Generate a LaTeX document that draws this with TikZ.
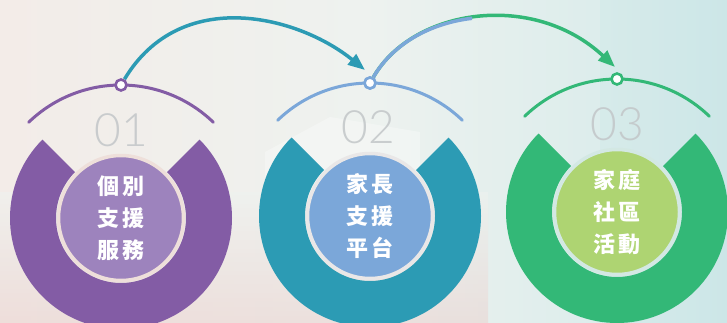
\documentclass[tikz,border=0pt]{standalone}
\usepackage{fontspec}
\newfontfamily\cjk[LetterSpace=12]{Noto Sans CJK TC}
\newfontfamily\numfont{Lato Light}
\usetikzlibrary{arrows.meta}
\definecolor{purp}{HTML}{835CA5}
\definecolor{purpl}{HTML}{9D83BD}
\definecolor{tealc}{HTML}{2C9BB4}
\definecolor{bluec}{HTML}{7BA7D9}
\definecolor{greenc}{HTML}{33B877}
\definecolor{limec}{HTML}{AED472}
\definecolor{numgray}{HTML}{C2C6C8}
\definecolor{bgl}{HTML}{F3ECE8}
\definecolor{bgm}{HTML}{EEF2EF}
\definecolor{bgr}{HTML}{D3EAEA}
\definecolor{pinkbg}{HTML}{EBD5D2}
\definecolor{cyanbg}{HTML}{C8E4E6}
\definecolor{rimone}{HTML}{EEDFDA}
\definecolor{rimtwo}{HTML}{E9E7E7}
\definecolor{rimthree}{HTML}{D3E8E3}
\begin{document}
\begin{tikzpicture}[x=1pt,y=1pt,
    disc/.style={circle,minimum size=125,inner sep=0pt,line width=3.5pt,text=white,align=center,
        font=\cjk\bfseries\fontsize{22}{32}\selectfont},
    dot/.style={circle,minimum size=11,inner sep=0pt,line width=2.6pt,fill=white},
    num/.style={font=\numfont\fontsize{46}{46}\selectfont,text=numgray,opacity=.85},
    arcline/.style={line width=3pt,line cap=round},
    link/.style={line width=3.5pt,-{Triangle[length=17pt,width=13pt]}}]
    \useasboundingbox (0,0) rectangle (727,322);

    % background
    \shade[left color=bgl,right color=bgr,middle color=bgm] (0,0) rectangle (727,322);
    \shade[top color=bgm,bottom color=pinkbg,opacity=.6] (0,0) rectangle (488,130);
    \fill[white,opacity=.3] (265,170) -- (330,205) -- (420,190) -- (420,140) -- (330,110) -- (265,140) -- cycle;
    \shade[left color=bgr,right color=cyanbg,opacity=.6] (600,0) rectangle (727,322);

        % thin arcs
        \draw[arcline,purp] (121,104) ++(46:133) arc[start angle=46,end angle=134,radius=133];
        \draw[arcline,bluec] (370,106) ++(46:133) arc[start angle=46,end angle=134,radius=133];
        \draw[arcline,greenc] (617,110) ++(46:133) arc[start angle=46,end angle=134,radius=133];

        % rings
        \fill[purp] (121,104) ++(135:111) arc[start angle=135,end angle=405,radius=111]
            -- ++(225:46) arc[start angle=45,end angle=-225,radius=65] -- cycle;
        \fill[tealc] (370,106) ++(135:111) arc[start angle=135,end angle=405,radius=111]
            -- ++(225:46) arc[start angle=45,end angle=-225,radius=65] -- cycle;
        \fill[greenc] (617,110) ++(135:111) arc[start angle=135,end angle=405,radius=111]
            -- ++(225:46) arc[start angle=45,end angle=-225,radius=65] -- cycle;

        \node[disc,fill=purpl,draw=rimone] (s1) at (121,104) {個別\\支援\\服務};
        \node[disc,fill=bluec,draw=rimtwo] (s2) at (370,106) {家長\\支援\\平台};
        \node[disc,fill=limec,draw=rimthree] (s3) at (617,110) {家庭\\社區\\活動};

        \node[num] (n1) at (121,192) {01};
        \node[num] (n2) at (368,195) {02};
        \node[num] (n3) at (617,198) {03};

        \node[dot,draw=purp] (d1) at (121,237) {};
        \node[dot,draw=bluec] (d2) at (370,239) {};
        \node[dot,draw=greenc] (d3) at (617,243) {};
        \coordinate (e2) at (365,252);
        \coordinate (e3) at (615,255);

        % arrows
        \draw[link,tealc] (d1) .. controls +(59:116) and +(141:86) .. (e2);
        \draw[link,greenc] (d2) .. controls +(60:86) and +(137:112) .. (e3);
        \begin{scope}
            \clip (0,0) rectangle (472,322);
            \draw[line width=3.5pt,bluec] (d2) .. controls +(60:86) and +(137:112) .. (e3);
        \end{scope}
        \node[dot,draw=bluec] at (d2) {};
\end{tikzpicture}
\end{document}
